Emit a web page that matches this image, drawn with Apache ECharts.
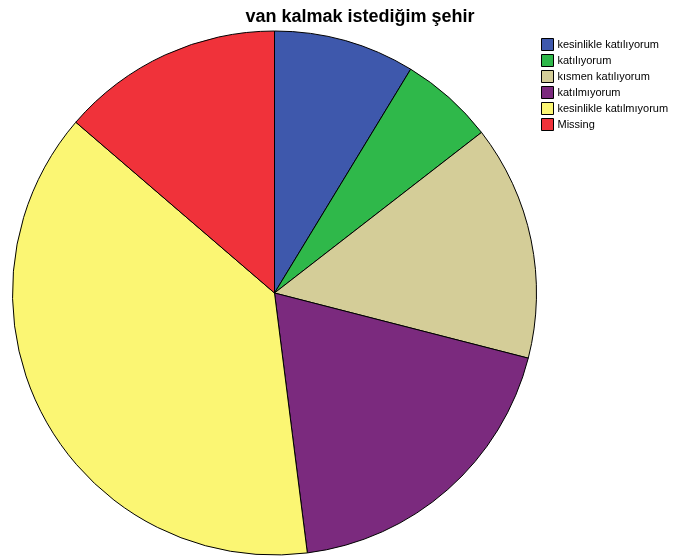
<!DOCTYPE html>
<html>
<head>
<meta charset="utf-8">
<script src="https://cdn.jsdelivr.net/npm/echarts@6/dist/echarts.min.js"></script>
<style>
  html, body { margin: 0; padding: 0; background: #fff; }
  #main { width: 675px; height: 557px; }
</style>
</head>
<body>
<div id="main"></div>
<script>
var categories = ['kesinlikle katılıyorum', 'katılıyorum', 'kısmen katılıyorum', 'katılmıyorum', 'kesinlikle katılmıyorum', 'Missing']
// percentages
var percents = [8.7, 5.8, 14.5, 19.0, 38.3, 13.7]
var colors = ['#3e58ac', '#2fb84a', '#d4cd98', '#7b2a7e', '#fbf673', '#f0323a']

var pieData = []
for (var i = 0; i < categories.length; i++) {
  pieData.push({ name: categories[i], value: percents[i], itemStyle: { color: colors[i] } })
}

var myChart = echarts.init(document.getElementById('main'))
var option = {
  animation: false,
  title: {
    text: 'van kalmak istediğim şehir',
    left: 355,
    textAlign: 'center',
    top: 3,
    textStyle: { fontFamily: 'Liberation Sans, Arial', fontSize: 18, fontWeight: 'bold', color: '#000' }
  },
  legend: {
    orient: 'vertical',
    left: 536,
    top: 33,
    itemWidth: 12,
    itemHeight: 12,
    itemGap: 3,
    icon: 'rect',
    itemStyle: { borderColor: '#000', borderWidth: 1 },
    textStyle: { fontFamily: 'Liberation Sans, Arial', fontSize: 11, color: '#000', padding: [0, 0, 0, -1] },
    data: categories
  },
  series: [
    {
      type: 'pie',
      center: [274.5, 293],
      radius: 262,
      startAngle: 90,
      clockwise: true,
      label: { show: false },
      labelLine: { show: false },
      emphasis: { disabled: true },
      itemStyle: { borderColor: '#000', borderWidth: 1 },
      data: pieData
    }
  ]
}
myChart.setOption(option)
</script>
</body>
</html>
